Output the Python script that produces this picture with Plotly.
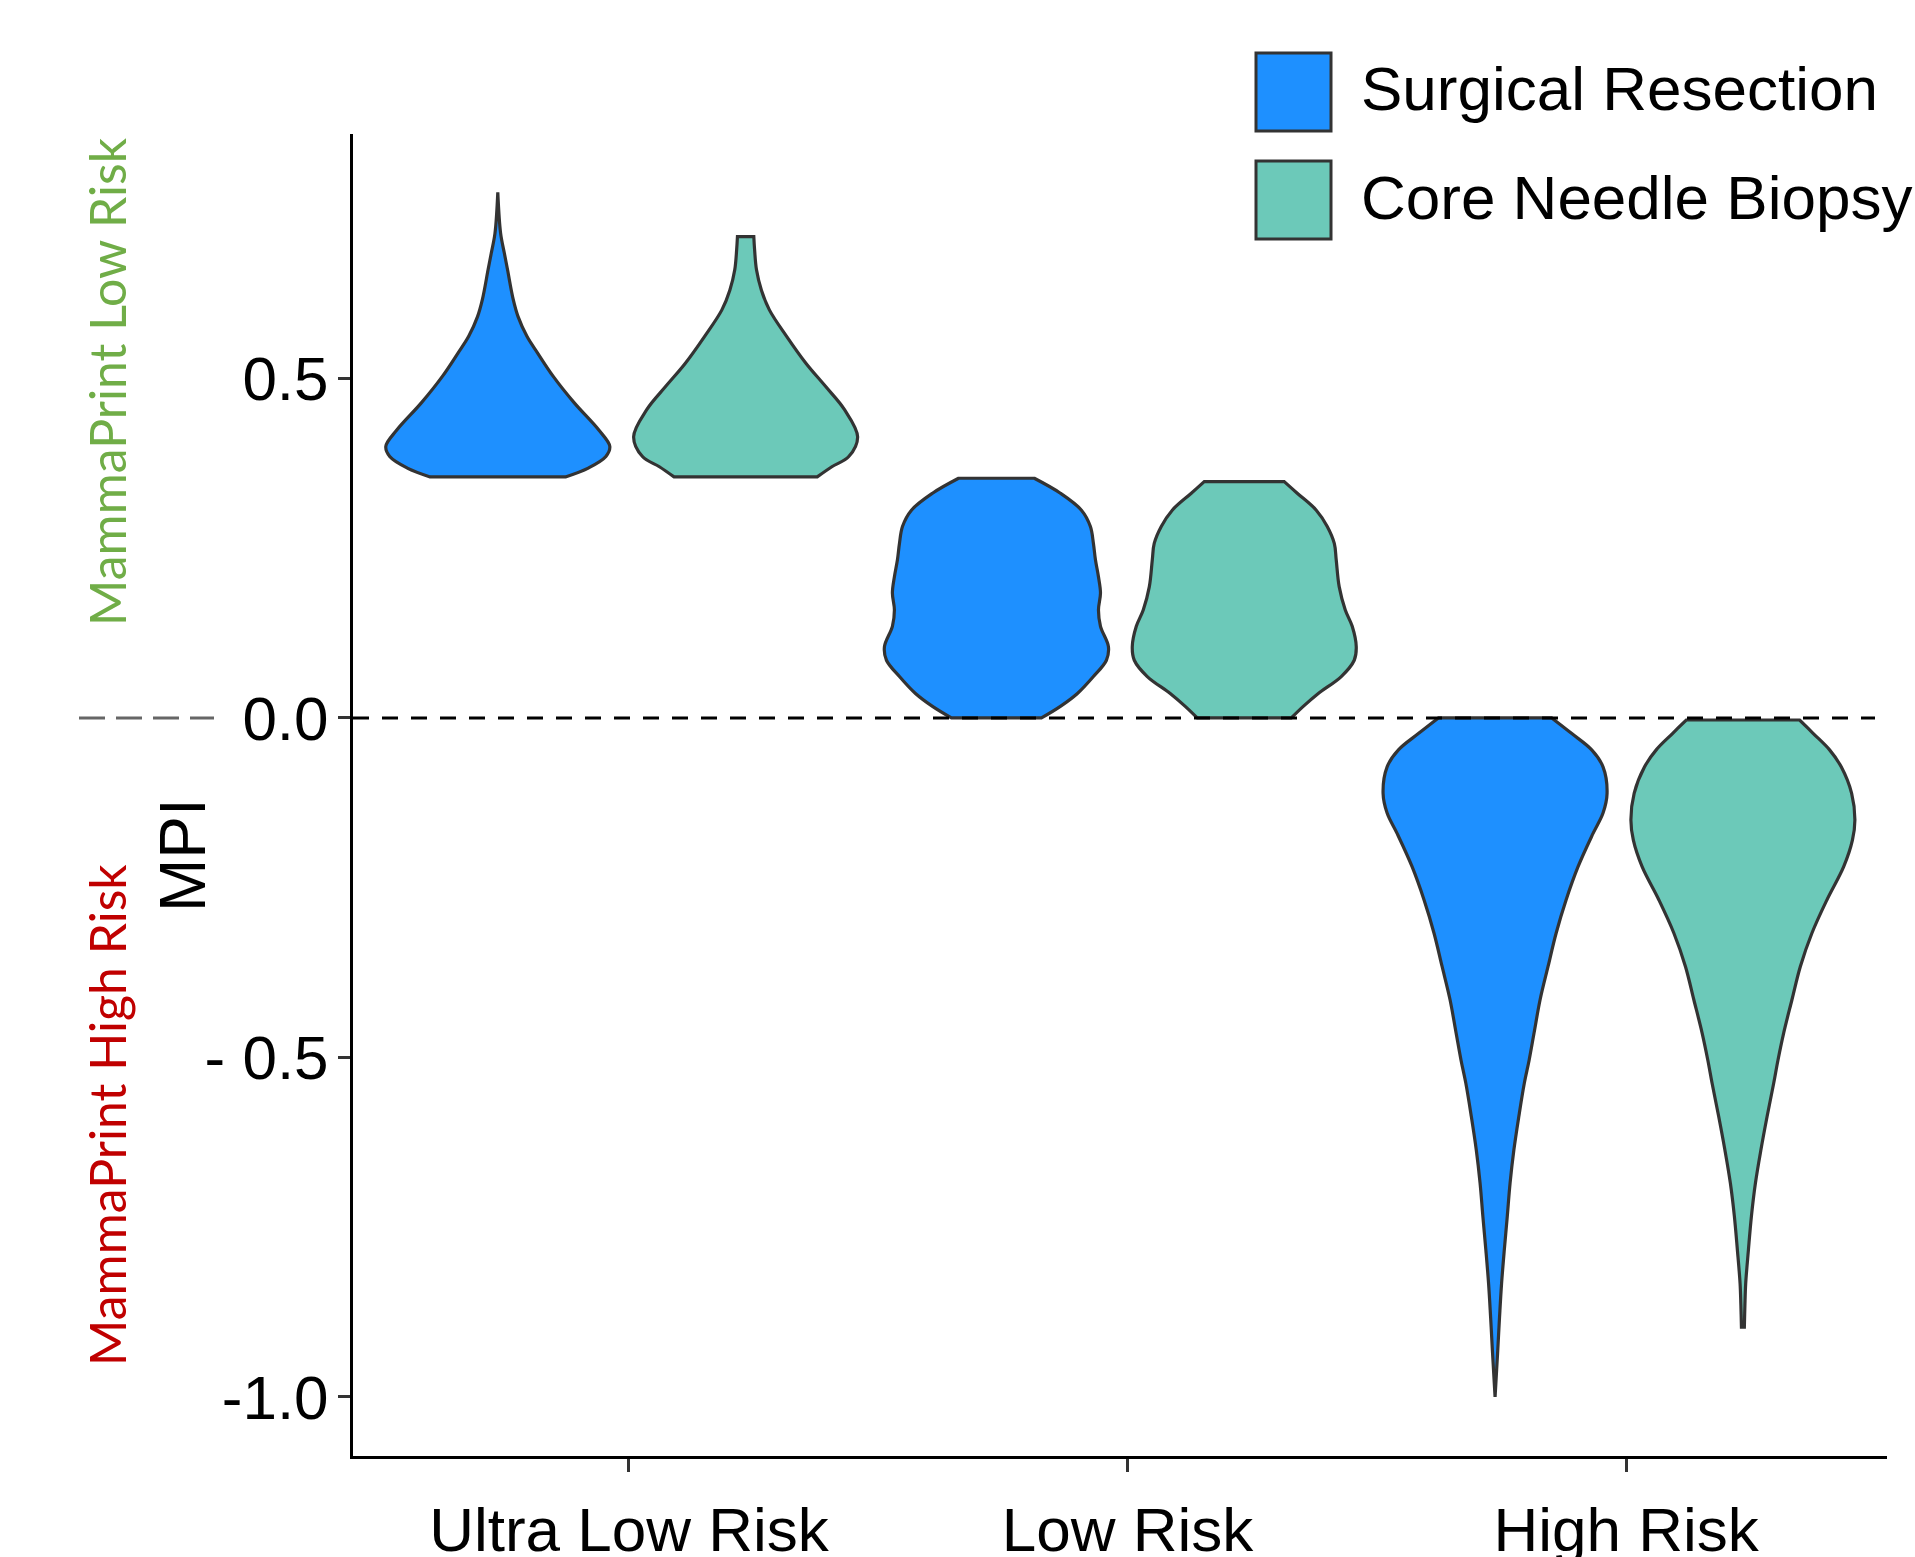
import plotly.graph_objects as go

# ---------------- data ----------------
categories = ["Ultra Low Risk", "Low Risk", "High Risk"]
series_names = ["Surgical Resection", "Core Needle Biopsy"]
series_colors = ["#1E90FF", "#6CC9B9"]

y_tick_vals = [0.5, 0.0, -0.5, -1.0]
y_tick_text = ["0.5", "0.0", "- 0.5", "-1.0"]

# violin outlines: MPI levels (top -> bottom) and relative density (half-width, 1 = widest)
ultra_surgical_mpi = [0.774, 0.714, 0.684, 0.660, 0.616, 0.591, 0.562, 0.537, 0.503, 0.464, 0.424, 0.400, 0.385, 0.368, 0.355]
ultra_surgical_den = [0.0, 0.025, 0.059, 0.087, 0.138, 0.181, 0.260, 0.357, 0.495, 0.683, 0.902, 1.0, 0.965, 0.808, 0.604]

ultra_core_mpi = [0.709, 0.690, 0.660, 0.630, 0.601, 0.562, 0.522, 0.488, 0.454, 0.414, 0.385, 0.370, 0.355]
ultra_core_den = [0.073, 0.080, 0.097, 0.141, 0.212, 0.366, 0.540, 0.715, 0.883, 1.0, 0.921, 0.770, 0.639]

low_surgical_mpi = [0.353, 0.331, 0.306, 0.282, 0.257, 0.233, 0.208, 0.184, 0.159, 0.135, 0.105, 0.085, 0.061, 0.036, 0.017, 0.0]
low_surgical_den = [0.338, 0.571, 0.759, 0.839, 0.866, 0.884, 0.911, 0.929, 0.911, 0.929, 1.0, 0.982, 0.866, 0.723, 0.571, 0.402]

low_core_mpi = [0.348, 0.331, 0.306, 0.282, 0.257, 0.233, 0.193, 0.159, 0.135, 0.105, 0.085, 0.061, 0.036, 0.017, 0.0]
low_core_den = [0.357, 0.473, 0.643, 0.741, 0.804, 0.821, 0.848, 0.902, 0.964, 1.0, 0.982, 0.866, 0.661, 0.527, 0.420]

high_surgical_mpi = [0.0, -0.023, -0.047, -0.072, -0.111, -0.140, -0.170, -0.219, -0.268, -0.317, -0.366, -0.415,
                     -0.464, -0.504, -0.538, -0.587, -0.636, -0.685, -0.734, -0.784, -0.833, -0.882, -0.931, -1.0]
high_surgical_den = [0.506, 0.685, 0.863, 0.964, 1.0, 0.964, 0.875, 0.741, 0.634, 0.545, 0.473, 0.402,
                     0.348, 0.304, 0.261, 0.212, 0.168, 0.134, 0.109, 0.082, 0.058, 0.040, 0.024, 0.0]

high_core_mpi = [-0.003, -0.023, -0.047, -0.072, -0.111, -0.150, -0.180, -0.219, -0.268, -0.317, -0.366, -0.415,
                 -0.464, -0.504, -0.538, -0.587, -0.636, -0.685, -0.734, -0.784, -0.833, -0.865, -0.897]
high_core_den = [0.506, 0.629, 0.774, 0.878, 0.971, 1.0, 0.978, 0.900, 0.750, 0.616, 0.513, 0.438,
                 0.364, 0.313, 0.275, 0.216, 0.161, 0.112, 0.076, 0.049, 0.025, 0.018, 0.013]

violins = {
    ("Ultra Low Risk", "Surgical Resection"): (ultra_surgical_mpi, ultra_surgical_den),
    ("Ultra Low Risk", "Core Needle Biopsy"): (ultra_core_mpi, ultra_core_den),
    ("Low Risk", "Surgical Resection"): (low_surgical_mpi, low_surgical_den),
    ("Low Risk", "Core Needle Biopsy"): (low_core_mpi, low_core_den),
    ("High Risk", "Surgical Resection"): (high_surgical_mpi, high_surgical_den),
    ("High Risk", "Core Needle Biopsy"): (high_core_mpi, high_core_den),
}

# ---------------- style / layout ----------------
W, H = 1915, 1557
L, R, T, B = 353, 1887, 134, 1456
DODGE = {"Surgical Resection": -0.263, "Core Needle Biopsy": 0.234}
HALF_WIDTH = 0.2246
MAIN_FONT = "Liberation Sans, Arial, sans-serif"
SIDE_FONT = "Lato, Noto Sans, sans-serif"


def pxx(px):
    return (px - L) / (R - L)


def pxy(py):
    return (B - py) / (B - T)


fig = go.Figure()

for ci, cat in enumerate(categories):
    for si, s in enumerate(series_names):
        mpi, den = violins[(cat, s)]
        c = (ci + 1) + DODGE[s]
        right_x = [c + d * HALF_WIDTH for d in den]
        left_x = [c - d * HALF_WIDTH for d in reversed(den)]
        right_y = list(mpi)
        left_y = list(reversed(mpi))
        # repeat the end points of each side so the flat ends stay sharp under spline smoothing
        xs = [right_x[0]] + right_x + [right_x[-1]] + [left_x[0]] + left_x + [left_x[-1]] + [right_x[0], right_x[0]]
        ys = [right_y[0]] + right_y + [right_y[-1]] + [left_y[0]] + left_y + [left_y[-1]] + [right_y[0], right_y[0]]
        fig.add_trace(go.Scatter(
            x=xs, y=ys, mode="lines", fill="toself",
            fillcolor=series_colors[si],
            line=dict(color="#333333", width=3.2, shape="spline", smoothing=1.0),
            name=s, showlegend=False, hoverinfo="skip",
        ))

shapes = [
    # reference line at MPI = 0 inside the panel
    dict(type="line", xref="paper", yref="paper", x0=0, x1=pxx(1875), y0=pxy(718), y1=pxy(718),
         line=dict(color="black", width=3, dash="16px,13px"), layer="above"),
    # grey dashes extending into the left margin
    dict(type="line", xref="paper", yref="paper", x0=pxx(79), x1=pxx(214), y0=pxy(718), y1=pxy(718),
         line=dict(color="#666666", width=3, dash="26px,11px")),
    # legend keys
    dict(type="rect", xref="paper", yref="paper", x0=pxx(1256), x1=pxx(1331), y0=pxy(131), y1=pxy(53),
         fillcolor=series_colors[0], line=dict(color="#333333", width=3)),
    dict(type="rect", xref="paper", yref="paper", x0=pxx(1256), x1=pxx(1331), y0=pxy(239), y1=pxy(161),
         fillcolor=series_colors[1], line=dict(color="#333333", width=3)),
]

annotations = [
    dict(text=series_names[0], xref="paper", yref="paper", x=pxx(1359), y=pxy(89),
         xanchor="left", yanchor="middle", showarrow=False,
         font=dict(family=MAIN_FONT, size=62, color="black")),
    dict(text=series_names[1], xref="paper", yref="paper", x=pxx(1359), y=pxy(197),
         xanchor="left", yanchor="middle", showarrow=False,
         font=dict(family=MAIN_FONT, size=62, color="black")),
    dict(text="MPI", xref="paper", yref="paper", x=pxx(183), y=pxy(855), textangle=-90,
         xanchor="center", yanchor="middle", showarrow=False,
         font=dict(family=MAIN_FONT, size=64, color="black")),
    dict(text="MammaPrint Low Risk", xref="paper", yref="paper", x=pxx(107), y=pxy(382), textangle=-90,
         xanchor="center", yanchor="middle", showarrow=False,
         font=dict(family=SIDE_FONT, size=50, color="#70AD47")),
    dict(text="MammaPrint High Risk", xref="paper", yref="paper", x=pxx(107), y=pxy(1115), textangle=-90,
         xanchor="center", yanchor="middle", showarrow=False,
         font=dict(family=SIDE_FONT, size=50, color="#C00000")),
]

fig.update_layout(
    width=W, height=H,
    margin=dict(l=L, r=W - R, t=T, b=H - B, pad=0),
    paper_bgcolor="white", plot_bgcolor="white",
    showlegend=False,
    shapes=shapes, annotations=annotations,
    xaxis=dict(
        range=[0.4466, 3.523], tickvals=[1, 2, 3], ticktext=categories, automargin=False,
        showgrid=False, zeroline=False, showline=True, linecolor="black", linewidth=3,
        ticks="outside", ticklen=13, tickwidth=2.5, tickcolor="#333333",
        tickfont=dict(family=MAIN_FONT, size=62, color="black"), ticklabelstandoff=5,
    ),
    yaxis=dict(
        range=[-1.0869, 0.860], tickvals=y_tick_vals, ticktext=y_tick_text, automargin=False,
        showgrid=False, zeroline=False, showline=True, linecolor="black", linewidth=3,
        ticks="outside", ticklen=12, tickwidth=2.5, tickcolor="#333333",
        tickfont=dict(family=MAIN_FONT, size=62, color="black"), ticklabelstandoff=-3,
    ),
)

fig.write_html(
    "out.html",
    config={"displayModeBar": False},
    post_script="document.body.style.margin='0px';document.body.style.padding='0px';",
)
